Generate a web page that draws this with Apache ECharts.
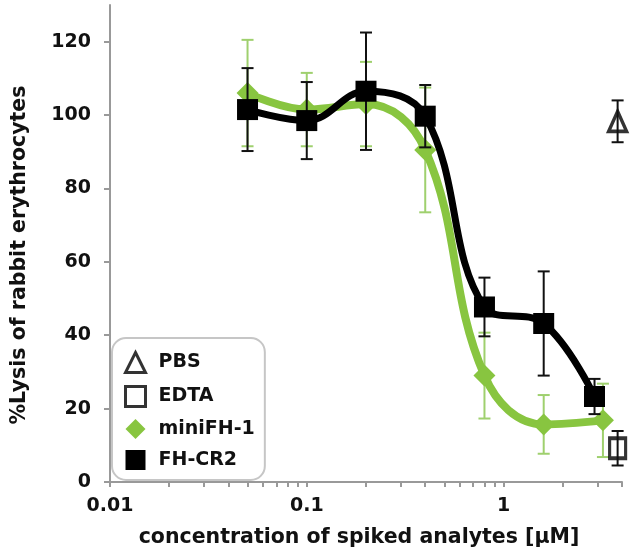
<!DOCTYPE html>
<html>
<head>
<meta charset="utf-8">
<script src="https://cdn.jsdelivr.net/npm/echarts@6/dist/echarts.min.js"></script>
<style>
html,body{margin:0;padding:0;background:#fff;}
#chart{width:643px;height:559px;}
</style>
</head>
<body>
<div id="chart"></div>
<script>
// ---- data ----
var miniX = [0.05, 0.1, 0.2, 0.4, 0.8, 1.6, 3.2];
var miniY = [106, 101.5, 103, 90.5, 29, 15.7, 16.8];
var miniErr = [14.5, 10, 11.5, 17, 11.7, 8, 10];

var crX = [0.05, 0.1, 0.2, 0.4, 0.8, 1.6, 2.9];
var crY = [101.5, 98.5, 106.5, 99.7, 47.7, 43.2, 23.3];
var crErr = [11.3, 10.5, 16, 8.5, 8, 14.2, 4.8];

var pbsX = [3.8];
var pbsY = [98.3];
var pbsErr = [5.7];

var edtaX = [3.8];
var edtaY = [9.2];
var edtaErr = [4.7];

var yTicks = [0, 20, 40, 60, 80, 100, 120];
var xMajorTicks = [0.01, 0.1, 1];
var xMinorTicks = [0.01,0.02,0.03,0.04,0.05,0.06,0.07,0.08,0.09,0.1,0.2,0.3,0.4,0.5,0.6,0.7,0.8,0.9,1,2,3,4];

var GREEN = '#88c540';
var GREEN_ERR = '#9fd06e';
var FONT = 'DejaVu Sans';

function pts(xs, ys){ return xs.map(function(x,i){ return [x, ys[i]]; }); }
function errs(xs, ys, es){ return xs.map(function(x,i){ return [x, ys[i]-es[i], ys[i]+es[i]]; }); }

function errSeries(name, data, color, capHalf, width, z){
  return {
    type: 'custom',
    name: name + ' err',
    z: z,
    silent: true,
    data: data,
    encode: {x: 0, y: [1, 2]},
    renderItem: function(params, api){
      var x = api.value(0);
      var lo = api.coord([x, api.value(1)]);
      var hi = api.coord([x, api.value(2)]);
      var st = {stroke: color, lineWidth: width};
      return {
        type: 'group',
        children: [
          {type:'line', shape:{x1:lo[0], y1:lo[1], x2:hi[0], y2:hi[1]}, style: st},
          {type:'line', shape:{x1:lo[0]-capHalf, y1:lo[1], x2:lo[0]+capHalf, y2:lo[1]}, style: st},
          {type:'line', shape:{x1:hi[0]-capHalf, y1:hi[1], x2:hi[0]+capHalf, y2:hi[1]}, style: st}
        ]
      };
    }
  };
}

var chart = echarts.init(document.getElementById('chart'), null, {renderer:'canvas'});

chart.setOption({
  animation: false,
  grid: {left: 110, right: 21, top: 5, bottom: 77},
  xAxis: {
    type: 'log', logBase: 10, min: 0.01, max: 4,
    axisLine: {show: true, lineStyle: {color: '#999', width: 2}},
    axisTick: {show: true, inside: false, length: 5, lineStyle: {color: '#999', width: 2}, customValues: xMinorTicks},
    axisLabel: {
      customValues: xMajorTicks, margin: 15,
      fontFamily: FONT, fontWeight: 'bold', fontSize: 19, color: '#111',
      formatter: function(v){ return String(v); }
    },
    splitLine: {show: false},
    minorTick: {show: false}
  },
  yAxis: {
    type: 'value', min: 0, max: 130,
    axisLine: {show: true, lineStyle: {color: '#999', width: 2}},
    axisTick: {show: true, length: 6, lineStyle: {color: '#999', width: 2}, customValues: yTicks},
    axisLabel: {customValues: yTicks, margin: 19, fontFamily: FONT, fontWeight: 'bold', fontSize: 19, color: '#111'},
    splitLine: {show: false}
  },
  legend: {
    orient: 'vertical',
    left: 112, top: 338,
    padding: [13, 10, 10, 12],
    itemWidth: 20, itemHeight: 20, itemGap: 11,
    borderColor: '#c6c6c6', borderWidth: 2, borderRadius: 14,
    textStyle: {fontFamily: FONT, fontWeight: 'bold', fontSize: 19, color: '#111', padding: [0,0,0,8]},
    data: [
      {name: 'PBS', icon: 'triangle', itemStyle: {color: '#fff', borderColor: '#000', borderWidth: 3}},
      {name: 'EDTA', icon: 'rect', itemStyle: {color: '#fff', borderColor: '#000', borderWidth: 3}},
      {name: 'miniFH-1', icon: 'diamond', itemStyle: {color: GREEN}},
      {name: 'FH-CR2', icon: 'rect', itemStyle: {color: '#000'}}
    ]
  },
  graphic: [
    {type: 'text', x: 359, y: 538, style: {text: 'concentration of spiked analytes [µM]', font: 'bold 20.5px "DejaVu Sans"', fill: '#111', align: 'center', verticalAlign: 'middle'}},
    {type: 'text', x: 20, y: 255, rotation: Math.PI/2, style: {text: '%Lysis of rabbit erythrocytes', font: 'bold 20.5px "DejaVu Sans"', fill: '#111', align: 'center', verticalAlign: 'middle'}}
  ],
  series: [
    errSeries('miniFH-1', errs(miniX, miniY, miniErr), GREEN_ERR, 6, 2, 2),
    {
      name: 'miniFH-1', type: 'line', data: pts(miniX, miniY), smooth: 0.4, z: 3,
      symbol: 'diamond', symbolSize: 22,
      lineStyle: {color: GREEN, width: 8},
      itemStyle: {color: GREEN}
    },
    errSeries('FH-CR2', errs(crX, crY, crErr), '#111', 6, 2, 4),
    {
      name: 'FH-CR2', type: 'line', data: pts(crX, crY), smooth: 0.4, z: 5,
      symbol: 'rect', symbolSize: 21,
      lineStyle: {color: '#000', width: 7},
      itemStyle: {color: '#000'}
    },
    {
      name: 'PBS', type: 'scatter', data: pts(pbsX, pbsY), z: 5,
      symbol: 'triangle', symbolSize: [18, 20],
      itemStyle: {color: '#fff', borderColor: '#000', borderWidth: 3.5}
    },
    errSeries('PBS', errs(pbsX, pbsY, pbsErr), '#111', 6, 2, 6),
    {
      name: 'EDTA', type: 'scatter', data: pts(edtaX, edtaY), z: 5,
      symbol: 'rect', symbolSize: [16, 20],
      itemStyle: {color: '#fff', borderColor: '#000', borderWidth: 3.5}
    },
    errSeries('EDTA', errs(edtaX, edtaY, edtaErr), '#111', 6, 2, 6)
  ]
});
</script>
</body>
</html>
